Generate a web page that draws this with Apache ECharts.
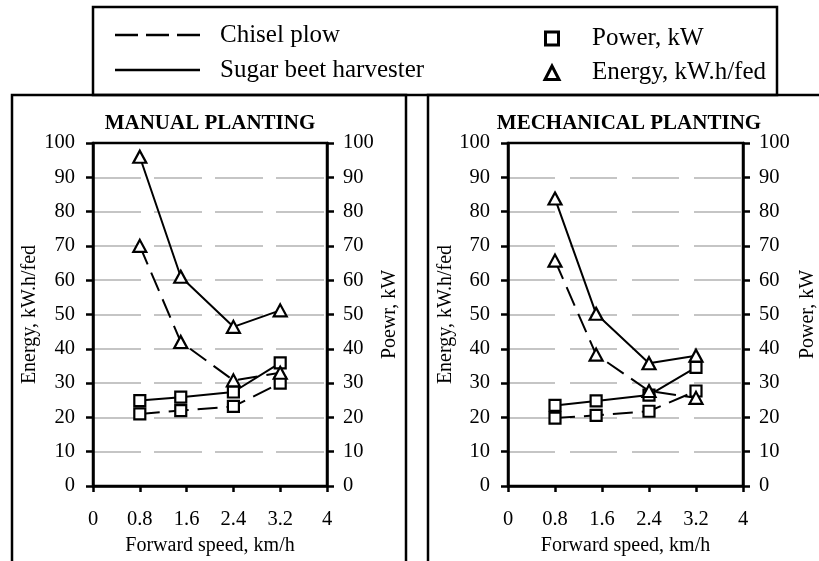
<!DOCTYPE html>
<html>
<head>
<meta charset="utf-8">
<script src="https://cdn.jsdelivr.net/npm/echarts@6/dist/echarts.min.js"></script>
<style>
html,body{margin:0;padding:0;background:#fff;}
#chart{width:819px;height:561px;}
</style>
</head>
<body>
<div id="chart"></div>
<script>
// ---- data ----
const speeds = [0.8, 1.5, 2.4, 3.2];
const panelTitles = ['MANUAL PLANTING', 'MECHANICAL PLANTING'];
const energyAxisNames = ['Energy, kW.h/fed', 'Energy, kW.h/fed'];
const powerAxisNames = ['Poewr, kW', 'Power, kW'];
const xAxisName = 'Forward speed, km/h';
const legendLineNames = ['Chisel plow', 'Sugar beet harvester'];
const legendMarkerNames = ['Power, kW', 'Energy, kW.h/fed'];

const manualChiselEnergy = [70, 42, 30.8, 33];
const manualHarvesterEnergy = [96, 61, 46.4, 51.2];
const manualChiselPower = [21, 22, 23.2, 30];
const manualHarvesterPower = [24.9, 25.9, 27.4, 35.9];

const mechChiselEnergy = [65.7, 38.3, 27.7, 25.7];
const mechHarvesterEnergy = [83.8, 50.2, 35.8, 38.0];
const mechChiselPower = [19.8, 20.6, 21.8, 27.7];
const mechHarvesterPower = [23.5, 24.8, 26.5, 34.6];

// ---- styling ----
const FONT = "'Liberation Serif', 'Times New Roman', serif";
const BLACK = '#000';
const grids = [
  { left: 93, top: 143, width: 234, height: 343 },
  { left: 508, top: 143, width: 242, height: 343 }
];
const gridDash = [[48, 13], [47, 15]];
const energyGap = [53, 50];
const powerGap = [53, 55];

function pair(ys) { return speeds.map((x, i) => [x, ys[i]]); }
function fmt(v) { return String(Math.round(v * 10) / 10); }

const xAxes = [], yAxes = [], series = [], titles = [];
grids.forEach((g, i) => {
  xAxes.push({
    type: 'value', gridIndex: i, min: 0, max: 4, interval: 0.8,
    axisLine: { lineStyle: { color: BLACK, width: 2.5 } },
    axisTick: { length: 6, lineStyle: { color: BLACK, width: 2.5 } },
    axisLabel: { formatter: fmt, margin: 23, fontSize: 20.5, color: BLACK, fontFamily: FONT },
    splitLine: { show: false },
    name: xAxisName, nameLocation: 'middle', nameGap: 50,
    nameTextStyle: { fontSize: 20, color: BLACK, fontFamily: FONT }
  });
  yAxes.push({
    type: 'value', gridIndex: i, position: 'left', min: 0, max: 100, interval: 10,
    axisLine: { show: true, lineStyle: { color: BLACK, width: 2.5 } },
    axisTick: { show: true, length: 7, lineStyle: { color: BLACK, width: 2.5 } },
    axisLabel: { margin: 18, fontSize: 20.5, color: BLACK, fontFamily: FONT },
    splitLine: { show: true, lineStyle: { color: '#b3b3b3', width: 1.5, type: gridDash[i] } },
    name: energyAxisNames[i], nameLocation: 'middle', nameGap: energyGap[i], nameRotate: 90,
    nameTextStyle: { fontSize: 20, color: BLACK, fontFamily: FONT }
  });
  yAxes.push({
    type: 'value', gridIndex: i, position: 'right', min: 0, max: 100, interval: 10,
    axisLine: { show: true, lineStyle: { color: BLACK, width: 2.5 } },
    axisTick: { show: true, length: 7, lineStyle: { color: BLACK, width: 2.5 } },
    axisLabel: { margin: 16, fontSize: 20.5, color: BLACK, fontFamily: FONT },
    splitLine: { show: false },
    name: powerAxisNames[i], nameLocation: 'middle', nameGap: powerGap[i], nameRotate: 90,
    nameTextStyle: { fontSize: 20, color: BLACK, fontFamily: FONT }
  });
  titles.push({
    text: panelTitles[i], left: g.left + g.width / 2, top: 113, textAlign: 'center', padding: 0,
    textStyle: { fontSize: 21, fontWeight: 'bold', color: BLACK, fontFamily: FONT }
  });
});

function mk(name, grid, yIdx, data, dashed, symbol) {
  return {
    name: name, type: 'line', xAxisIndex: grid, yAxisIndex: yIdx,
    data: pair(data),
    symbol: symbol, symbolSize: symbol === 'rect' ? 11 : [13, 12],
    itemStyle: { color: '#fff', borderColor: BLACK, borderWidth: 2.2 },
    lineStyle: { color: BLACK, width: 2, type: dashed ? [20, 9] : 'solid' },
    z: symbol === 'rect' ? 3 : 4,
    animation: false
  };
}
series.push(
  mk('Chisel plow energy (manual)', 0, 0, manualChiselEnergy, true, 'triangle'),
  mk('Sugar beet harvester energy (manual)', 0, 0, manualHarvesterEnergy, false, 'triangle'),
  mk('Chisel plow power (manual)', 0, 1, manualChiselPower, true, 'rect'),
  mk('Sugar beet harvester power (manual)', 0, 1, manualHarvesterPower, false, 'rect'),
  mk('Chisel plow energy (mechanical)', 1, 2, mechChiselEnergy, true, 'triangle'),
  mk('Sugar beet harvester energy (mechanical)', 1, 2, mechHarvesterEnergy, false, 'triangle'),
  mk('Chisel plow power (mechanical)', 1, 3, mechChiselPower, true, 'rect'),
  mk('Sugar beet harvester power (mechanical)', 1, 3, mechHarvesterPower, false, 'rect')
);

const frameStyle = { fill: 'none', stroke: BLACK, lineWidth: 2.5 };
const legendText = { fontSize: 25, fill: BLACK, fontFamily: FONT, textVerticalAlign: 'middle', verticalAlign: 'middle' };
const graphic = [
  { type: 'rect', shape: { x: 12, y: 95, width: 394, height: 500 }, style: frameStyle, silent: true },
  { type: 'rect', shape: { x: 428, y: 95, width: 420, height: 500 }, style: frameStyle, silent: true },
  { type: 'rect', shape: { x: 93, y: 7, width: 684, height: 88 }, style: frameStyle, silent: true },
  { type: 'line', shape: { x1: 115, y1: 35, x2: 200, y2: 35 }, style: { stroke: BLACK, lineWidth: 2.5, lineDash: [23, 8] } },
  { type: 'line', shape: { x1: 115, y1: 70, x2: 200, y2: 70 }, style: { stroke: BLACK, lineWidth: 2.5 } },
  { type: 'text', x: 220, y: 35, style: Object.assign({ text: legendLineNames[0] }, legendText) },
  { type: 'text', x: 220, y: 70, style: Object.assign({ text: legendLineNames[1] }, legendText) },
  { type: 'rect', shape: { x: 545.5, y: 32, width: 13, height: 13 }, style: { fill: '#fff', stroke: BLACK, lineWidth: 3 } },
  { type: 'polygon', shape: { points: [[552, 66], [545, 79.5], [559, 79.5]] }, style: { fill: '#fff', stroke: BLACK, lineWidth: 3 } },
  { type: 'text', x: 592, y: 38, style: Object.assign({ text: legendMarkerNames[0] }, legendText) },
  { type: 'text', x: 592, y: 72, style: Object.assign({ text: legendMarkerNames[1] }, legendText) }
];

const chart = echarts.init(document.getElementById('chart'), null, { renderer: 'canvas' });
chart.setOption({
  backgroundColor: '#fff',
  animation: false,
  title: titles,
  grid: grids.map(g => Object.assign({ show: true, z: 6, borderColor: BLACK, borderWidth: 2.5, backgroundColor: 'transparent' }, g)),
  xAxis: xAxes,
  yAxis: yAxes,
  series: series,
  graphic: graphic
});
</script>
</body>
</html>
